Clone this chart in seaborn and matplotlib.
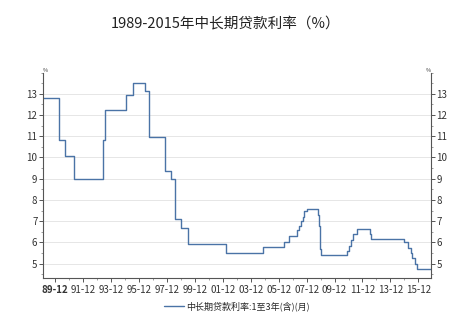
import matplotlib
matplotlib.use("Agg")
import matplotlib.pyplot as plt
import matplotlib.dates as mdates
from matplotlib.ticker import MultipleLocator
import pandas as pd
import seaborn as sns

# Change dates and 1-3 year loan rate (%) after each change
change_dates = [
    "1989-01-20", "1990-03-21", "1990-08-21", "1991-04-21", "1993-05-15",
    "1993-07-11", "1995-01-01", "1995-07-01", "1996-05-01", "1996-08-23",
    "1997-10-23", "1998-03-25", "1998-07-01", "1998-12-07", "1999-06-10",
    "2002-02-21", "2004-10-29", "2006-04-28", "2006-08-19", "2007-03-18",
    "2007-05-19", "2007-07-21", "2007-08-22", "2007-09-15", "2007-12-21",
    "2008-09-16", "2008-10-09", "2008-10-30", "2008-11-27", "2008-12-23",
    "2010-10-20", "2010-12-26", "2011-02-09", "2011-04-06", "2011-07-07",
    "2012-06-08", "2012-07-06", "2014-11-22", "2015-03-01", "2015-05-11",
    "2015-06-28", "2015-08-26", "2015-10-24", "2016-10-20",
]
rates = [
    12.78, 10.80, 10.08, 9.00, 10.80,
    12.24, 12.96, 13.50, 13.14, 10.98,
    9.36, 9.00, 7.11, 6.66, 5.94,
    5.49, 5.76, 6.03, 6.30, 6.57,
    6.75, 7.02, 7.20, 7.47, 7.56,
    7.29, 7.02, 6.75, 5.67, 5.40,
    5.60, 5.85, 6.10, 6.40, 6.65,
    6.40, 6.15, 6.00, 5.75, 5.50,
    5.25, 5.00, 4.75, 4.75,
]
tick_dates = ["1989-12-01", "1991-12-01", "1993-12-01", "1995-12-01", "1997-12-01",
              "1999-12-01", "2001-12-01", "2003-12-01", "2005-12-01", "2007-12-01",
              "2009-12-01", "2011-12-01", "2013-12-01", "2015-12-01"]
tick_labels = ["89-12", "91-12", "93-12", "95-12", "97-12", "99-12", "01-12",
               "03-12", "05-12", "07-12", "09-12", "11-12", "13-12", "15-12"]
y_ticks = [5, 6, 7, 8, 9, 10, 11, 12, 13]
series_name = "中长期贷款利率:1至3年(含)(月)"
title = "1989-2015年中长期贷款利率（%）"

sns.set_theme(style="white")
plt.rcParams["font.family"] = ["Noto Sans CJK SC", "DejaVu Sans"]
plt.rcParams["axes.unicode_minus"] = False

df = pd.DataFrame({"date": pd.to_datetime(change_dates), "rate": rates})

fig = plt.figure(figsize=(4.77, 3.24), dpi=100)
ax = fig.add_axes([0.0901, 0.142, 0.813, 0.634])

sns.lineplot(data=df, x="date", y="rate", ax=ax, drawstyle="steps-post",
             color="#4a73a6", linewidth=1.0, label=series_name, legend=False)

ax.set_xlim(pd.Timestamp("1989-01-20"), pd.Timestamp("2016-10-20"))
ax.set_ylim(4.32, 14.0)

ax.set_xticks(pd.to_datetime(tick_dates))
ax.set_xticklabels(tick_labels)
ax.set_yticks(y_ticks)
ax.set_yticklabels([str(v) for v in y_ticks])
ax.yaxis.set_minor_locator(MultipleLocator(0.5))
ax.xaxis.set_minor_locator(mdates.YearLocator(month=12, day=1))

for lab in ax.get_xticklabels():
    lab.set_fontsize(7)
    lab.set_color("#333333")
ax.get_xticklabels()[0].set_fontweight("bold")

ax.tick_params(axis="y", which="major", labelsize=7, labelcolor="#333333",
               left=True, right=True, labelleft=True, labelright=True,
               length=3, width=0.7, color="#555555", pad=1)
ax.tick_params(axis="y", which="minor", left=True, right=True, length=1.5,
               width=0.5, color="#777777")
ax.tick_params(axis="x", which="major", bottom=True, length=3, width=0.7,
               color="#555555", pad=2)
ax.tick_params(axis="x", which="minor", bottom=True, length=1.5, width=0.5,
               color="#777777")

ax.grid(axis="y", color="#e6e6e6", linewidth=0.7)
ax.set_axisbelow(True)
for side in ["left", "right", "bottom"]:
    ax.spines[side].set_visible(True)
    ax.spines[side].set_color("#555555")
    ax.spines[side].set_linewidth(0.8)
ax.spines["top"].set_visible(False)
ax.set_xlabel("")
ax.set_ylabel("")

ax.text(0.0, 1.0, "%", transform=ax.transAxes, fontsize=4, ha="left", va="bottom",
        color="#333333")
ax.text(1.0, 1.0, "%", transform=ax.transAxes, fontsize=4, ha="right", va="bottom",
        color="#333333")

fig.text(0.472, 0.925, title, fontsize=10.5, ha="center", va="center", color="#222222")

handles, labels = ax.get_legend_handles_labels()
fig.legend(handles, labels, loc="center", bbox_to_anchor=(0.497, 0.056),
           frameon=False, fontsize=6.5, handlelength=2.2, handletextpad=0.3)

fig.savefig("out.png", dpi=100)
